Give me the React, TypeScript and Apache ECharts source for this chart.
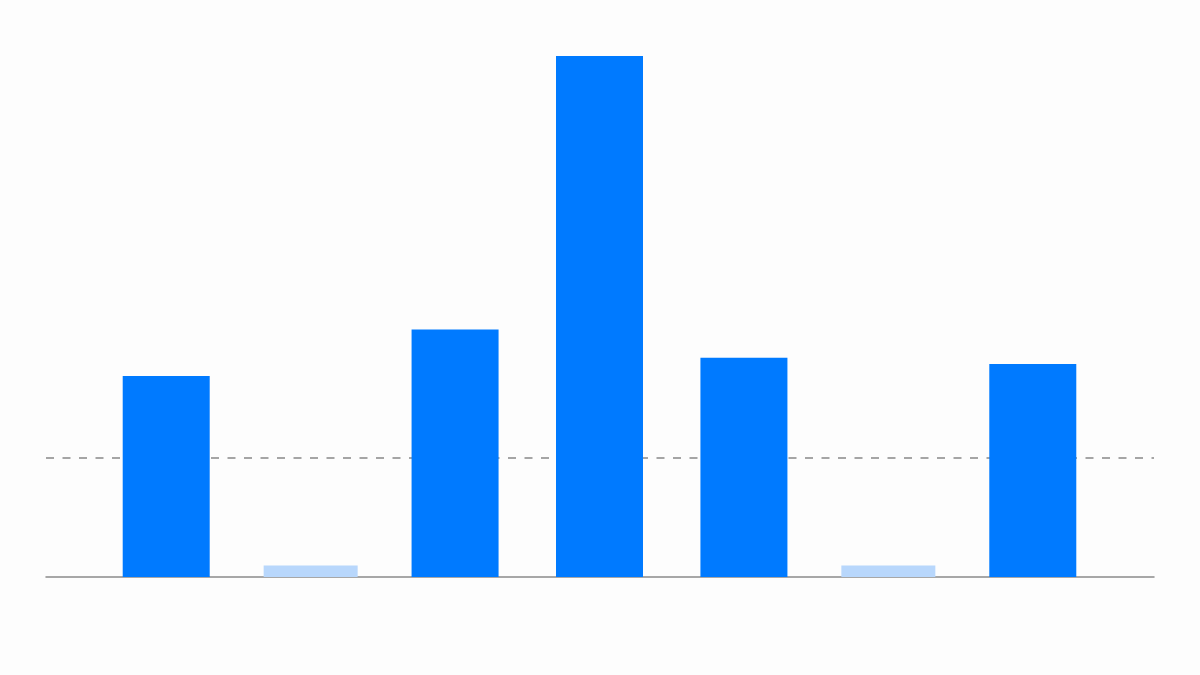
import React, { useEffect, useRef } from 'react';
import * as echarts from 'echarts';

// categories and values (bar 4 = 100)
const categories = ['A', 'B', 'C', 'D', 'E', 'F', 'G'];
const mainValues: (number | null)[] = [38.6, null, 47.5, 100, 42.1, null, 40.9];
const mutedValues: (number | null)[] = [null, 2.2, null, null, null, 2.2, null];
const threshold = 22.9;
const yMax = 100;

const App: React.FC = () => {
  const chartRef = useRef<HTMLDivElement>(null);

  useEffect(() => {
    if (!chartRef.current) return;
    const chart = echarts.init(chartRef.current, undefined, { renderer: 'svg' });

    const option: echarts.EChartsOption = {
      animation: false,
      backgroundColor: '#fdfdfd',
      grid: [
        { left: 94, right: 95, top: 56, bottom: 98 },
        { left: 46, right: 46, top: 56, bottom: 98 },
      ],
      xAxis: [
        {
          type: 'category',
          gridIndex: 0,
          data: categories,
          axisLine: { show: false },
          axisTick: { show: false },
          axisLabel: { show: false },
        },
        {
          type: 'category',
          gridIndex: 0,
          data: categories,
          show: false,
        },
        {
          type: 'value',
          gridIndex: 1,
          min: 0,
          max: 1,
          axisLine: { show: true, lineStyle: { color: '#8a8a8a', width: 1.5 } },
          axisTick: { show: false },
          axisLabel: { show: false },
          splitLine: { show: false },
        },
      ],
      yAxis: [
        { type: 'value', gridIndex: 0, min: 0, max: yMax, show: false },
        { type: 'value', gridIndex: 0, min: 0, max: yMax, show: false },
        { type: 'value', gridIndex: 1, min: 0, max: yMax, show: false },
      ],
      series: [
        {
          type: 'line',
          xAxisIndex: 2,
          yAxisIndex: 2,
          data: [],
          z: 1,
          markLine: {
            silent: true,
            z: 1,
            symbol: 'none',
            label: { show: false },
            lineStyle: { color: '#888888', type: [8, 8.5], width: 1.5 },
            data: [{ yAxis: threshold }],
          },
        },
        {
          type: 'bar',
          xAxisIndex: 0,
          yAxisIndex: 0,
          barWidth: 87,
          data: mainValues,
          itemStyle: { color: '#007aff' },
          z: 3,
        },
        {
          type: 'bar',
          xAxisIndex: 1,
          yAxisIndex: 1,
          barWidth: 94,
          data: mutedValues,
          itemStyle: { color: '#b8d7fc' },
          z: 3,
        },
      ],
    };

    chart.setOption(option);
    return () => chart.dispose();
  }, []);

  return (
    <div
      ref={chartRef}
      style={{ position: 'absolute', left: 0, top: 0, width: 1200, height: 675 }}
    />
  );
};

export default App;
